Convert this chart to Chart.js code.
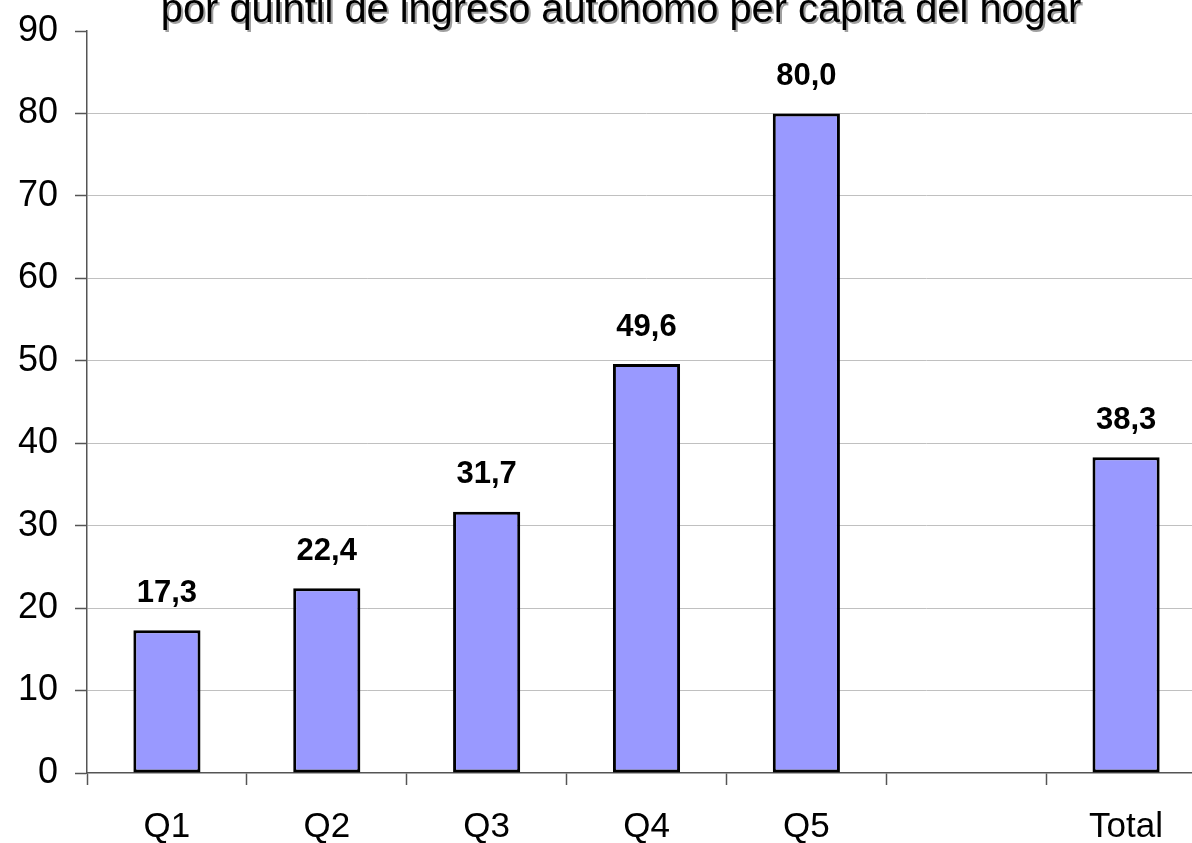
<!DOCTYPE html>
<html>
<head>
<meta charset="utf-8">
<script src="https://cdn.jsdelivr.net/npm/chart.js@4"></script>
<style>
  html, body { margin: 0; padding: 0; background: #fff; overflow: hidden; }
  #wrap { width: 1192px; height: 843px; overflow: hidden; }
</style>
</head>
<body>
<div id="wrap"><canvas id="chart" width="1210" height="843"></canvas></div>
<script>
// data
const categories = ["Q1", "Q2", "Q3", "Q4", "Q5", "", "Total"];
const values = [17.3, 22.4, 31.7, 49.6, 80.0, null, 38.3];
const titleText = "por quintil de ingreso autónomo per cápita del hogar";

const FONT = "'Liberation Sans', Arial, sans-serif";

// title (cut at the top like the original) with a soft grey shadow
const titlePlugin = {
  id: "titleShadow",
  afterDraw(chart) {
    const ctx = chart.ctx;
    ctx.save();
    ctx.font = "39.8px " + FONT;
    ctx.textAlign = "center";
    ctx.textBaseline = "alphabetic";
    ctx.fillStyle = "#a0a0a0";
    ctx.fillText(titleText, 623, 24);
    ctx.fillStyle = "#000";
    ctx.fillText(titleText, 621, 22);
    ctx.restore();
  }
};

// value labels above each bar, comma decimal
const valueLabels = {
  id: "valueLabels",
  afterDatasetsDraw(chart) {
    const ctx = chart.ctx;
    const meta = chart.getDatasetMeta(0);
    ctx.save();
    ctx.font = "bold 31px " + FONT;
    ctx.textAlign = "center";
    ctx.textBaseline = "middle";
    ctx.fillStyle = "#000";
    meta.data.forEach((bar, i) => {
      if (values[i] == null) return;
      ctx.fillText(values[i].toFixed(1).replace(".", ","), bar.x, bar.y - 37);
    });
    ctx.restore();
  }
};

new Chart(document.getElementById("chart").getContext("2d"), {
  type: "bar",
  data: {
    labels: categories,
    datasets: [{
      data: values,
      backgroundColor: "#9999ff",
      borderColor: "#000",
      borderWidth: 3,
      borderSkipped: false,
      categoryPercentage: 1,
      barPercentage: 0.42
    }]
  },
  options: {
    responsive: false,
    devicePixelRatio: 1,
    animation: false,
    layout: { padding: { top: 31, right: 4, left: 0, bottom: 0 } },
    plugins: { legend: { display: false }, tooltip: { enabled: false } },
    scales: {
      x: {
        grid: {
          offset: true,
          drawOnChartArea: false,
          tickLength: 12,
          tickColor: "#555",
          tickWidth: 1.5
        },
        border: { color: "#555", width: 1.5 },
        ticks: { color: "#000", font: { family: FONT, size: 35 }, padding: 21, maxRotation: 0, autoSkip: false },
        afterFit(scale) { scale.height = 70; }
      },
      y: {
        min: 0,
        max: 90,
        ticks: { stepSize: 10, color: "#000", font: { family: FONT, size: 36 }, padding: 17 },
        grid: {
          color: (c) => (c.tick && (c.tick.value === 0 || c.tick.value === 90) ? "rgba(0,0,0,0)" : "#c0c0c0"),
          lineWidth: 1,
          tickLength: 12,
          tickColor: "#555",
          tickWidth: 1.5
        },
        border: { color: "#555", width: 1.5 },
        afterFit(scale) {
          scale.width = 87;
          scale.paddingTop = 0;
          scale.paddingBottom = 0;
        }
      }
    }
  },
  plugins: [valueLabels, titlePlugin]
});
</script>
</body>
</html>
